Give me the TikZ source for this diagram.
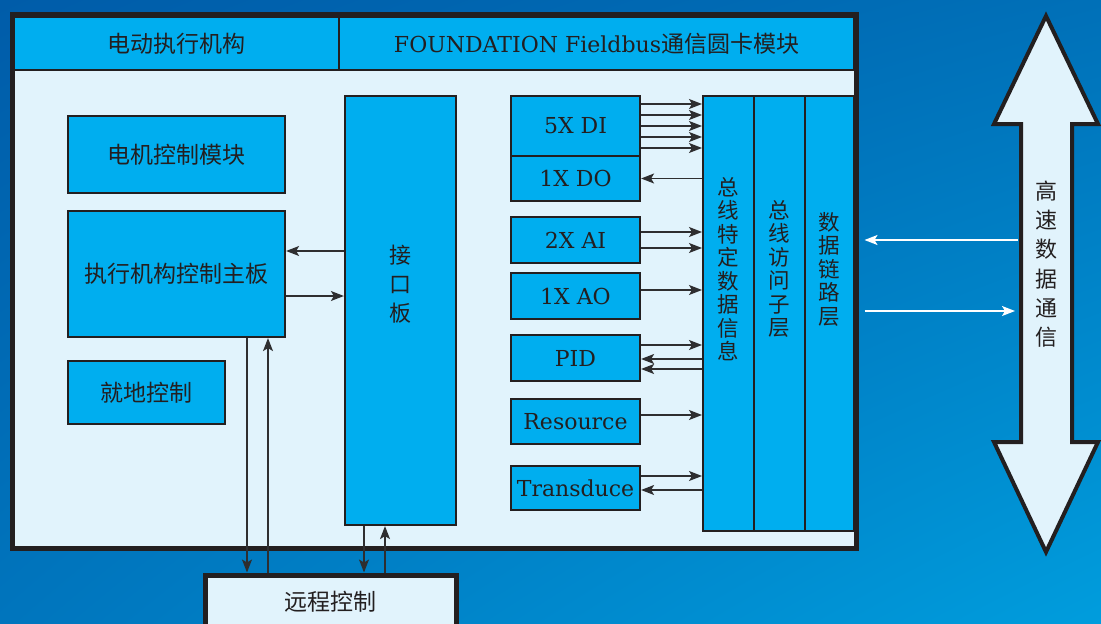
\documentclass[tikz,border=0pt]{standalone}
\usepackage{fontspec}
\setmainfont{DejaVu Serif}
\newfontfamily\cjk{Noto Sans CJK SC}
\usetikzlibrary{arrows.meta,positioning,calc,shadings}

\definecolor{edge}{HTML}{231F20}
\definecolor{cyanfill}{HTML}{00AEEF}
\definecolor{pale}{HTML}{E1F3FC}
\definecolor{linkc}{HTML}{2E2E30}
\definecolor{bgTL}{HTML}{005CA9}
\definecolor{bgTR}{HTML}{0070B8}
\definecolor{bgBL}{HTML}{0075BD}
\definecolor{bgBR}{HTML}{009DDD}

\begin{document}
\begin{tikzpicture}[x=1pt, y=-1pt,
    blk/.style={draw=edge, line width=2.2pt, fill=cyanfill, inner sep=0pt, text=edge},
    lat/.style={font=\fontsize{22}{26}\selectfont},
    zh/.style={font=\cjk\fontsize{23}{26}\selectfont},
    vzh/.style={align=center, text=edge, inner sep=0pt, font=\cjk\fontsize{21.5}{23.5}\selectfont},
    link/.style={draw=linkc, line width=1.3pt, -{Stealth[length=13pt,width=10pt,inset=3pt]}},
    buslink/.style={draw=white, line width=1.4pt, -{Stealth[length=13pt,width=10pt,inset=3pt]}}
]
    % background
    \useasboundingbox (0,0) rectangle (1101,624);
    \clip (0,0) rectangle (1101,624);
    \shade[upper left=bgTL, upper right=bgTR, lower left=bgBL, lower right=bgBR] (0,0) rectangle (1101,624);

    % outer frame and header
    \node[draw=edge, line width=5pt, fill=pale, minimum width=844pt, minimum height=533.5pt, inner sep=0pt] (frame) at (434,281.25) {};
    \node[blk, zh, line width=2pt, minimum width=325pt, minimum height=53pt] (hdl) at (176.5,43.5) {电动执行机构};
    \node[blk, lat, line width=2pt, minimum width=515pt, minimum height=53pt] (hdr) at (596.5,43.5) {FOUNDATION Fieldbus{\cjk\fontsize{23}{26}\selectfont 通信圆卡模块}};

    % left part - actuator
    \node[blk, zh, minimum width=217pt, minimum height=77pt] (motor) at (176.5,154.5) {电机控制模块};
    \node[blk, zh, minimum width=217pt, minimum height=126pt] (mainboard) at (176.5,274) {执行机构控制主板};
    \node[blk, zh, minimum width=157pt, minimum height=63pt] (local) at (146.5,392.5) {就地控制};
    \node[blk, minimum width=111pt, minimum height=429pt] (iface) at (400.5,310.5) {};
    \node[vzh, font=\cjk\fontsize{22}{29}\selectfont] (iface-t) at (400.5,284) {接\\口\\板};

    % remote control
    \node[draw=edge, line width=5pt, fill=pale, zh, text=edge, minimum width=251pt, minimum height=54pt, inner sep=0pt] (remote) at (330.5,602) {远程控制};

    % function blocks
    \node[blk, lat, minimum width=129pt, minimum height=60pt] (di) at (575.5,126) {5X DI};
    \node[blk, lat, minimum width=129pt, minimum height=45pt] (do) at (575.5,178.5) {1X DO};
    \node[blk, lat, minimum width=129pt, minimum height=46pt] (ai) at (575.5,240) {2X AI};
    \node[blk, lat, minimum width=129pt, minimum height=46pt] (ao) at (575.5,296) {1X AO};
    \node[blk, lat, minimum width=129pt, minimum height=46pt] (pid) at (575.5,358) {PID};
    \node[blk, lat, minimum width=129pt, minimum height=45pt] (res) at (575.5,421.5) {Resource};
    \node[blk, lat, minimum width=129pt, minimum height=44pt] (trans) at (575.5,488) {Transduce};

    % stack columns
    \node[blk, line width=2pt, minimum width=51pt, minimum height=435pt] (fsd) at (728.5,313.5) {};
    \node[blk, line width=2pt, minimum width=51pt, minimum height=435pt] (fas) at (779.5,313.5) {};
    \node[blk, line width=2pt, minimum width=49pt, minimum height=435pt] (dll) at (829.5,313.5) {};
    \node[vzh] (fsd-t) at (728.5,269) {总\\线\\特\\定\\数\\据\\信\\息};
    \node[vzh] (fas-t) at (779.5,269) {总\\线\\访\\问\\子\\层};
    \node[vzh] (dll-t) at (829.5,269) {数\\据\\链\\路\\层};

    % links blocks -> columns
    \foreach \s in {22,11,0,-11,-22}
        \draw[link] ([yshift=\s pt]di.east) -- ([yshift=\s pt]di.east -| fsd.west);
    \draw[link] (do.east -| fsd.west) -- (do.east);
    \foreach \s in {8,-8}
        \draw[link] ([yshift=\s pt]ai.east) -- ([yshift=\s pt]ai.east -| fsd.west);
    \draw[link] ([yshift=6pt]ao.east) -- ([yshift=6pt]ao.east -| fsd.west);
    \draw[link] ([yshift=13pt]pid.east) -- ([yshift=13pt]pid.east -| fsd.west);
    \foreach \s in {-1,-11}
        \draw[link] ([yshift=\s pt]pid.east -| fsd.west) -- ([yshift=\s pt]pid.east);
    \draw[link] ([yshift=6.5pt]res.east) -- ([yshift=6.5pt]res.east -| fsd.west);
    \draw[link] ([yshift=12pt]trans.east) -- ([yshift=12pt]trans.east -| fsd.west);
    \draw[link] ([yshift=-2pt]trans.east -| fsd.west) -- ([yshift=-2pt]trans.east);

    % links main board <-> interface board
    \draw[link] ([yshift=23pt]mainboard.east -| iface.west) -- ([yshift=23pt]mainboard.east);
    \draw[link] ([yshift=-22pt]mainboard.east) -- ([yshift=-22pt]mainboard.east -| iface.west);

    % links to remote control
    \draw[link] ([xshift=70.5pt]mainboard.south) -- ([xshift=70.5pt]mainboard.south |- remote.north);
    \draw[link] ([xshift=91.5pt]mainboard.south |- remote.north) -- ([xshift=91.5pt]mainboard.south);
    \draw[link] ([xshift=-36.5pt]iface.south) -- ([xshift=-36.5pt]iface.south |- remote.north);
    \draw[link] ([xshift=-15.5pt]iface.south |- remote.north) -- ([xshift=-15.5pt]iface.south);

    % high speed bus arrow
    \draw[draw=edge, line width=4pt, fill=pale, line join=miter]
        (1046,16) -- (1098,124) -- (1072,124) -- (1072,442) -- (1098,442) -- (1046,552)
        -- (994,442) -- (1021,442) -- (1021,124) -- (994,124) -- cycle;
    \node[vzh, font=\cjk\fontsize{22}{29.3}\selectfont] (hsdc) at (1046,264) {高\\速\\数\\据\\通\\信};

    % bus <-> data link layer
    \coordinate (busin) at (1018,240);
    \coordinate (busout) at (1015,311);
    \draw[buslink] (busin) -- ([xshift=6pt]busin -| frame.east);
    \draw[buslink] ([xshift=6pt]busout -| frame.east) -- (busout);

\end{tikzpicture}
\end{document}
